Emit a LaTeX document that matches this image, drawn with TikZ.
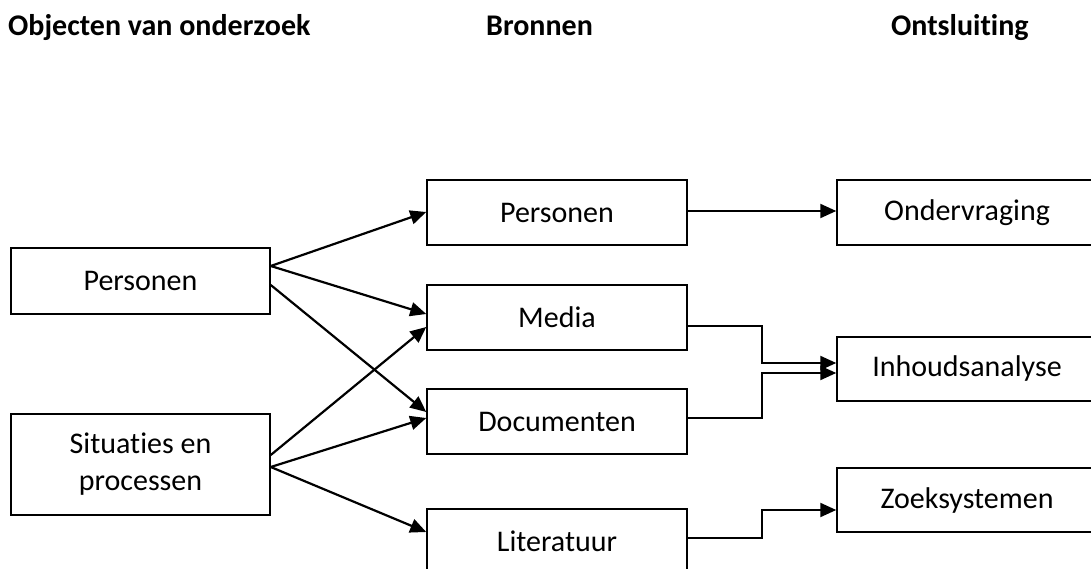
\documentclass[tikz,border=0pt]{standalone}
\usepackage{fontspec}
\setmainfont{Carlito}[Ligatures=NoCommon]
\usetikzlibrary{arrows.meta,calc}
\begin{document}
\begin{tikzpicture}[x=1pt,y=-1pt,
  box/.style={draw,line width=1.5pt,minimum width=259pt,inner sep=0pt,align=center,font=\fontsize{30}{37}\selectfont},
  head/.style={anchor=base west,inner sep=0pt,font=\bfseries\fontsize{30}{36}\selectfont},
  conn/.style={line width=2.2pt,-{Triangle[length=16pt,width=14pt]}},
  elb/.style={line width=2.2pt,-{Triangle[length=16pt,width=14pt]}}]
\useasboundingbox (0,0) rectangle (1091,569);
\node[head] (t1) at (8,36) {Objecten van onderzoek};
\node[head] (t2) at (486,36) {Bronnen};
\node[head] (t3) at (891,36) {Ontsluiting};
\node[box,minimum height=66pt] (L1) at (140.5,281) {Personen};
\node[box,minimum height=101pt] (L2) at (140.5,464.5) {Situaties en\\processen};
\node[box,minimum width=260pt,minimum height=65pt] (M1) at (557,212.5) {Personen};
\node[box,minimum width=260pt,minimum height=65pt] (M2) at (557,317.5) {Media};
\node[box,minimum width=260pt,minimum height=65pt] (M3) at (557,421.5) {Documenten};
\node[box,minimum width=260pt,minimum height=65pt] (M4) at (557,541.5) {Literatuur};
\node[box,minimum width=260pt,minimum height=65pt] (R1) at (967,212.5) {Ondervraging};
\node[box,minimum width=260pt,minimum height=64pt] (R2) at (967,369) {Inhoudsanalyse};
\node[box,minimum width=260pt,minimum height=64pt] (R3) at (967,500) {Zoeksystemen};
% left to middle
\draw[conn] ($(L1.east)+(0,-15)$) -- ($(M1.west)+(0,-0.5)$);
\draw[conn] ($(L1.east)+(0,-15)$) -- ($(M2.west)+(0,-3.5)$);
\draw[conn] ($(L1.east)+(0,4)$) -- ($(M3.west)+(0,-9.5)$);
\draw[conn] ($(L2.east)+(0,-9.5)$) -- ($(M2.west)+(0,9.5)$);
\draw[conn] ($(L2.east)+(0,2.5)$) -- ($(M3.west)+(0,-3.5)$);
\draw[conn] ($(L2.east)+(0,2.5)$) -- ($(M4.west)+(0,-9.5)$);
% middle to right
\draw[conn] ($(M1.east)+(0,-1.5)$) -- ($(R1.west)+(0,-1.5)$);
\draw[elb] ($(M2.east)+(0,8.5)$) -| (762,363) -- ($(R2.west)+(0,-6)$);
\draw[elb] ($(M3.east)+(0,-3.5)$) -| (762,373) -- ($(R2.west)+(0,4)$);
\draw[elb] ($(M4.east)+(0,-3.5)$) -| (762,510) -- ($(R3.west)+(0,10)$);
\end{tikzpicture}
\end{document}
